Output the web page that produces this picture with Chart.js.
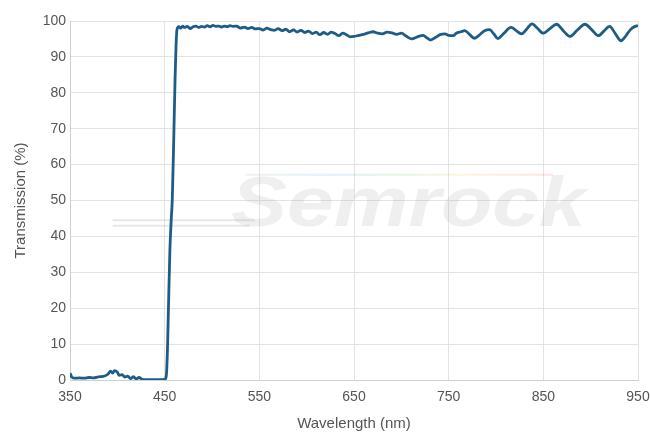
<!DOCTYPE html>
<html>
<head>
<meta charset="utf-8">
<script src="https://cdn.jsdelivr.net/npm/chart.js@4/dist/chart.umd.min.js"></script>
<style>
  html, body { margin: 0; padding: 0; background: #ffffff; }
  #wrap { width: 650px; height: 433px; position: relative; }
</style>
</head>
<body>
<div id="wrap"><canvas id="c" width="650" height="433"></canvas></div>
<script>
// ---- data ----
const wavelengths = [
  350, 352, 355, 360, 365, 370, 375, 380, 385, 390, 393, 395, 397, 400, 402, 405, 408, 411, 414, 417,
  420, 423, 426, 430, 435, 440, 445, 450, 451, 452, 453, 454, 455.5, 457, 458, 459.5, 461, 462, 463,
  465, 467, 469, 471, 474, 477, 480, 483, 486, 489, 492, 495, 498, 501, 504, 507, 510, 513, 516, 519,
  522, 526, 530, 534, 538, 542, 546, 550, 554, 558, 562, 566, 570, 574, 578, 582, 586, 590, 594, 598,
  602, 606, 610, 614, 618, 622, 626, 630, 634, 638, 642, 646, 650, 655, 660, 665, 670, 675, 680, 685,
  690, 695, 700, 705, 711, 717, 723, 727, 731, 736, 741, 746, 750, 755, 758, 763, 767, 772, 777, 782,
  788, 793, 798, 802, 808, 816, 821, 827, 832, 838, 844, 850, 857, 864, 871, 878, 886, 894, 901, 908,
  914, 920, 926, 932, 937, 942, 947, 950
];
const transmission = [
  1.9, 0.8, 0.5, 0.6, 0.5, 0.7, 0.6, 0.9, 1.0, 1.6, 2.5, 1.9, 2.6, 2.2, 1.3, 1.5, 0.8, 1.1, 0.4, 0.9,
  0.3, 0.7, 0.2, 0.1, 0.1, 0.1, 0.1, 0.2, 0.4, 2, 9, 20, 36, 45, 50, 66, 84, 93, 97.6,
  98.4, 98.0, 98.6, 98.2, 98.5, 97.9, 98.4, 98.6, 98.2, 98.5, 98.3, 98.7, 98.4, 98.8, 98.5, 98.6, 98.3, 98.6, 98.4, 98.7,
  98.5, 98.6, 98.0, 98.3, 97.9, 98.2, 97.8, 97.9, 97.5, 98.0, 97.6, 97.4, 97.9, 97.3, 97.7, 97.0, 97.5, 96.9, 97.4, 96.8,
  97.2, 96.5, 96.9, 96.2, 96.8, 96.3, 96.9, 96.5, 95.9, 96.6, 96.2, 95.6, 95.7, 96.0, 96.3, 96.7, 97.0, 96.6, 96.4, 96.9,
  96.7, 96.3, 96.6, 95.8, 95.0, 95.6, 96.0, 95.3, 94.7, 95.4, 96.2, 96.4, 96.0, 95.9, 96.6, 97.0, 97.3, 96.3, 95.2, 96.0,
  97.3, 97.6, 96.3, 95.1, 96.5, 98.2, 97.4, 96.4, 97.6, 99.2, 97.9, 96.6, 97.9, 99.1, 97.3, 95.7, 97.5, 99.1, 97.6, 95.9,
  97.2, 98.5, 96.5, 94.5, 95.8, 97.6, 98.5, 98.7
];
const xTicks = [350, 450, 550, 650, 750, 850, 950];
const yTicks = [0, 10, 20, 30, 40, 50, 60, 70, 80, 90, 100];
const xTitle = 'Wavelength (nm)';
const yTitle = 'Transmission (%)';
const watermarkText = 'Semrock';

const points = wavelengths.map((w, i) => ({ x: w, y: transmission[i] }));
const FONT = '"Liberation Sans", Arial, sans-serif';

const watermark = {
  id: 'watermark',
  beforeDatasetsDraw(chart) {
    const ctx = chart.ctx;
    const xs = chart.scales.x, ys = chart.scales.y;
    ctx.save();
    ctx.strokeStyle = 'rgba(150,150,150,0.22)';
    ctx.lineWidth = 2;
    const yA = ys.getPixelForValue(44.5), yB = ys.getPixelForValue(43.0);
    ctx.beginPath();
    ctx.moveTo(xs.getPixelForValue(395), yA); ctx.lineTo(xs.getPixelForValue(545), yA);
    ctx.moveTo(xs.getPixelForValue(395), yB); ctx.lineTo(xs.getPixelForValue(540), yB);
    ctx.stroke();
    const x0 = xs.getPixelForValue(535), x1 = xs.getPixelForValue(860);
    const g = ctx.createLinearGradient(x0, 0, x1, 0);
    g.addColorStop(0, 'rgba(200,200,200,0.25)');
    g.addColorStop(0.3, 'rgba(120,200,230,0.25)');
    g.addColorStop(0.5, 'rgba(150,220,130,0.25)');
    g.addColorStop(0.7, 'rgba(240,220,120,0.25)');
    g.addColorStop(1, 'rgba(240,150,150,0.25)');
    ctx.strokeStyle = g;
    ctx.lineWidth = 2;
    const yT = ys.getPixelForValue(57.2);
    ctx.beginPath(); ctx.moveTo(x0, yT); ctx.lineTo(x1, yT); ctx.stroke();
    ctx.fillStyle = 'rgba(140,140,140,0.14)';
    ctx.font = 'italic bold 70px ' + FONT;
    ctx.textBaseline = 'alphabetic';
    ctx.translate(xs.getPixelForValue(520), ys.getPixelForValue(43.0));
    ctx.scale(1.2, 1);
    ctx.fillText(watermarkText, 0, 0);
    ctx.restore();
  }
};

new Chart(document.getElementById('c'), {
  type: 'line',
  data: {
    datasets: [{
      data: points,
      borderColor: '#1e5c88',
      borderWidth: 2.8,
      pointRadius: 0,
      fill: false,
      cubicInterpolationMode: 'monotone'
    }]
  },
  options: {
    responsive: false,
    animation: false,
    layout: { padding: { left: 0, right: 12, top: 21, bottom: 0 } },
    plugins: { legend: { display: false }, tooltip: { enabled: false } },
    scales: {
      x: {
        type: 'linear',
        min: 350, max: 950,
        afterBuildTicks: (s) => { s.ticks = xTicks.map(v => ({ value: v })); },
        afterFit: (s) => { s.height = 53; s.paddingLeft = 0; s.paddingRight = 0; },
        ticks: { color: '#555', font: { family: FONT, size: 14 }, padding: 9 },
        grid: { color: '#e3e3e3', drawTicks: false },
        border: { color: '#cfcfcf' },
        title: { display: true, text: xTitle, color: '#555', font: { family: FONT, size: 15 }, padding: { top: 6, bottom: 0 } }
      },
      y: {
        min: 0, max: 100,
        afterBuildTicks: (s) => { s.ticks = yTicks.map(v => ({ value: v })); },
        afterFit: (s) => { s.width = 70; s.paddingTop = 0; s.paddingBottom = 0; },
        ticks: { color: '#555', font: { family: FONT, size: 14 }, padding: 4 },
        grid: { color: '#e3e3e3', drawTicks: false },
        border: { color: '#cfcfcf' },
        title: { display: true, text: yTitle, color: '#555', font: { family: FONT, size: 15 }, padding: { top: 12, bottom: 0 } }
      }
    }
  },
  plugins: [watermark]
});
</script>
</body>
</html>
